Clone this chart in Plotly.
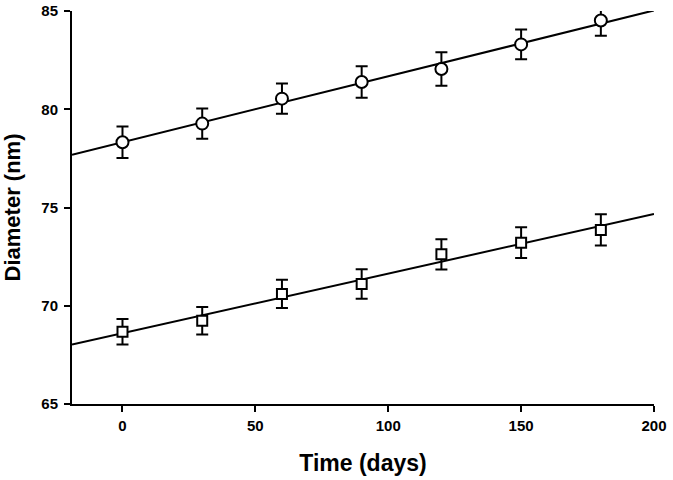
import numpy as np
import plotly.graph_objects as go

days = [0, 30, 60, 90, 120, 150, 180]
circle_vals = [78.32, 79.27, 80.54, 81.39, 82.05, 83.30, 84.52]
circle_err = [0.80, 0.77, 0.77, 0.80, 0.85, 0.76, 0.78]
square_vals = [68.68, 69.24, 70.60, 71.11, 72.62, 73.21, 73.86]
square_err = [0.65, 0.70, 0.72, 0.75, 0.77, 0.78, 0.80]
x_ticks = [0, 50, 100, 150, 200]
y_ticks = [65, 70, 75, 80, 85]
x_range = [-19, 200]
y_range = [65, 85]

FONT = "Liberation Sans, Arial, sans-serif"

fig = go.Figure()

for vals in (circle_vals, square_vals):
    slope, intercept = np.polyfit(days, vals, 1)
    xs = np.array(x_range, dtype=float)
    fig.add_trace(go.Scatter(x=xs, y=intercept + slope * xs, mode="lines",
                             line=dict(color="black", width=2),
                             showlegend=False, hoverinfo="skip"))

fig.add_trace(go.Scatter(
    x=days, y=circle_vals, mode="markers",
    marker=dict(symbol="circle", size=12, color="white",
                line=dict(color="black", width=2)),
    error_y=dict(type="data", array=circle_err, visible=True,
                 color="black", thickness=2, width=6),
    showlegend=False))

fig.add_trace(go.Scatter(
    x=days, y=square_vals, mode="markers",
    marker=dict(symbol="square", size=10, color="white",
                line=dict(color="black", width=2)),
    error_y=dict(type="data", array=square_err, visible=True,
                 color="black", thickness=2, width=6),
    showlegend=False))

axis_common = dict(showline=True, linecolor="black", linewidth=2,
                   ticks="outside", ticklen=6, tickwidth=2, tickcolor="black",
                   showgrid=False, zeroline=False,
                   tickfont=dict(family=FONT, size=15, color="black", weight="bold"))

fig.update_xaxes(range=x_range, tickvals=x_ticks, ticklabelstandoff=1,
                 title=dict(text="Time (days)", standoff=22,
                            font=dict(family=FONT, size=23, color="black", weight="bold")),
                 **axis_common)
fig.update_yaxes(range=y_range, tickvals=y_ticks, ticklabelstandoff=3,
                 title=dict(text="Diameter (nm)", standoff=15,
                            font=dict(family=FONT, size=22, color="black", weight="bold")),
                 **axis_common)

fig.update_layout(width=673, height=480,
                  margin=dict(l=72, r=19, t=11, b=76, autoexpand=False),
                  plot_bgcolor="white", paper_bgcolor="white")

fig.write_html("out.html", config={"displayModeBar": False},
               post_script="document.body.style.margin='0';document.body.style.overflow='hidden';")
